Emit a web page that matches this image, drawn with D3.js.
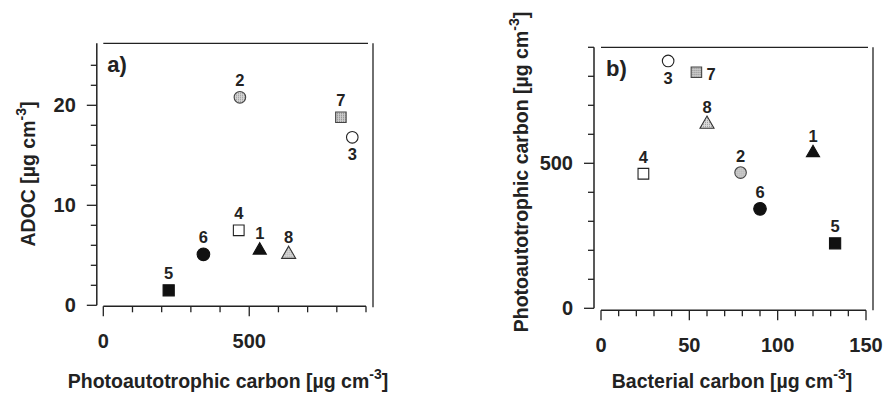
<!DOCTYPE html>
<html>
<head>
<meta charset="utf-8">
<script src="https://cdn.jsdelivr.net/npm/d3@7"></script>
<style>
  body { margin: 0; background: #fff; }
  svg { display: block; font-family: "Liberation Sans", Arial, sans-serif; }
</style>
</head>
<body>
<div id="chart"></div>
<script>
// station numbers
const stations = [1, 2, 3, 4, 5, 6, 7, 8];
// photoautotrophic carbon [ug cm-3]
const photoC = [536, 468, 853, 464, 224, 343, 814, 635];
// ADOC [ug cm-3]
const adoc = [5.5, 20.8, 16.8, 7.5, 1.5, 5.1, 18.8, 5.1];
// bacterial carbon [ug cm-3]
const bactC = [120, 79, 38, 24, 132.5, 90, 54, 60];

const ticksA_x = [0, 500];
const ticksA_y = [0, 10, 20];
const ticksB_x = [0, 50, 100, 150];
const ticksB_y = [0, 500];

const data = stations.map((s, i) => ({ id: s, photo: photoC[i], adoc: adoc[i], bact: bactC[i] }));

const W = 885, H = 394;
const svg = d3.select("#chart").append("svg")
  .attr("width", W).attr("height", H);

// texture patterns for the grey symbols
const defs = svg.append("defs");
function dotPattern(id, bg, fg) {
  const p = defs.append("pattern").attr("id", id)
    .attr("width", 2).attr("height", 2).attr("patternUnits", "userSpaceOnUse");
  p.append("rect").attr("width", 2).attr("height", 2).attr("fill", bg);
  p.append("rect").attr("width", 1).attr("height", 1).attr("fill", fg);
}
dotPattern("pCircle", "#d8d8d8", "#8a8a8a");
dotPattern("pSquare", "#cfcfcf", "#777");
dotPattern("pTri", "#dcdcdc", "#999");

// symbol style per station
const sym = {
  1: { type: d3.symbolTriangle, fill: "#111", stroke: "#111", size: 75 },
  2: { type: d3.symbolCircle, fill: "url(#pCircle)", stroke: "#444", size: 105 },
  3: { type: d3.symbolCircle, fill: "#fff", stroke: "#222", size: 105 },
  4: { type: d3.symbolSquare, fill: "#fff", stroke: "#222", size: 115 },
  5: { type: d3.symbolSquare, fill: "#111", stroke: "#111", size: 125 },
  6: { type: d3.symbolCircle, fill: "#111", stroke: "#111", size: 125 },
  7: { type: d3.symbolSquare, fill: "url(#pSquare)", stroke: "#444", size: 110 },
  8: { type: d3.symbolTriangle, fill: "url(#pTri)", stroke: "#333", size: 85 }
};

function drawPanel(cfg) {
  const g = svg.append("g");
  const x = d3.scaleLinear().domain(cfg.xDomain).range(cfg.xRange);
  const y = d3.scaleLinear().domain(cfg.yDomain).range(cfg.yRange);
  const x0 = cfg.xRange[0], x1 = cfg.xRange[1];
  const y0 = cfg.yRange[0], y1 = cfg.yRange[1];

  // frame (top and right)
  g.append("line").attr("x1", x0).attr("x2", x1 + 2).attr("y1", y1).attr("y2", y1)
    .attr("stroke", "#222").attr("stroke-width", 1.3);
  g.append("line").attr("x1", x1 + 7).attr("x2", x1 + 7).attr("y1", y1).attr("y2", y0 + 2)
    .attr("stroke", "#222").attr("stroke-width", 1.3);

  // x axis
  const xa = g.append("g").attr("transform", `translate(0,${y0 + cfg.xOff})`);
  xa.append("line").attr("x1", x0).attr("x2", x1).attr("stroke", "#222").attr("stroke-width", 1.5);
  xa.selectAll(".mt").data(d3.range(cfg.xDomain[0], cfg.xMinorMax + 1e-9, cfg.xMinor))
    .join("line").attr("x1", d => x(d)).attr("x2", d => x(d))
    .attr("y1", 0).attr("y2", d => cfg.xTicks.includes(d) ? 10 : 6)
    .attr("stroke", "#222").attr("stroke-width", 1.3);
  xa.selectAll("text").data(cfg.xTicks).join("text")
    .attr("x", d => x(d)).attr("y", 42)
    .attr("text-anchor", "middle").attr("font-size", 20).attr("font-weight", "bold")
    .attr("fill", "#222").text(d => d);

  // y axis
  const ya = g.append("g").attr("transform", `translate(${x0 - cfg.yOff},0)`);
  ya.append("line").attr("y1", y0).attr("y2", y1).attr("stroke", "#222").attr("stroke-width", 1.5);
  ya.selectAll(".mt").data(d3.range(cfg.yDomain[0], cfg.yMinorMax + 1e-9, cfg.yMinor))
    .join("line").attr("y1", d => y(d)).attr("y2", d => y(d))
    .attr("x1", 0).attr("x2", d => cfg.yTicks.includes(d) ? -10 : -6)
    .attr("stroke", "#222").attr("stroke-width", 1.3);
  ya.selectAll("text").data(cfg.yTicks).join("text")
    .attr("x", -21).attr("y", d => y(d) + 7)
    .attr("text-anchor", "end").attr("font-size", 20).attr("font-weight", "bold")
    .attr("fill", "#222").text(d => d);

  // axis titles
  const xt = g.append("text").attr("x", cfg.xTitleX).attr("y", 388)
    .attr("text-anchor", "middle").attr("font-size", 19.5).attr("font-weight", "bold").attr("fill", "#222");
  xt.append("tspan").text(cfg.xTitle + " [µg cm");
  xt.append("tspan").attr("font-size", 14).attr("dy", -9).text("-3");
  xt.append("tspan").attr("dy", 9).text("]");

  const yt = g.append("text")
    .attr("transform", `translate(${cfg.yTitleX},${cfg.yTitleY}) rotate(-90)`)
    .attr("text-anchor", "middle").attr("font-size", 19.5).attr("font-weight", "bold").attr("fill", "#222");
  yt.append("tspan").text(cfg.yTitle + " [µg cm");
  yt.append("tspan").attr("font-size", 14).attr("dy", -9).text("-3");
  yt.append("tspan").attr("dy", 9).text("]");

  // panel letter
  g.append("text").attr("x", x0 + cfg.letterDx).attr("y", y1 + 29)
    .attr("font-size", 22).attr("font-weight", "bold").attr("fill", "#222").text(cfg.letter);

  // points
  const pts = g.selectAll(".pt").data(data).join("g")
    .attr("transform", d => `translate(${x(d[cfg.xKey])},${y(d[cfg.yKey])})`);
  pts.append("path")
    .attr("d", d => d3.symbol().type(sym[d.id].type).size(sym[d.id].size)())
    .attr("fill", d => sym[d.id].fill)
    .attr("stroke", d => sym[d.id].stroke).attr("stroke-width", 1.1);
  pts.append("text")
    .attr("font-size", 16.5).attr("font-weight", "bold").attr("fill", "#222")
    .attr("text-anchor", d => cfg.labelAt(d.id) === "right" ? "start" : "middle")
    .attr("x", d => cfg.labelAt(d.id) === "right" ? 10 : 0)
    .attr("y", d => {
      const p = cfg.labelAt(d.id);
      return p === "below" ? 23 : p === "right" ? 8 : -11;
    })
    .text(d => d.id);
}

drawPanel({
  letter: "a)", letterDx: 4,
  xKey: "photo", yKey: "adoc",
  xDomain: [0, 900], xRange: [103.3, 366], xMinorMax: 900,
  yDomain: [0, 26.2], yRange: [305.3, 43.3], yMinorMax: 24,
  xTicks: ticksA_x, yTicks: ticksA_y, xMinor: 100, yMinor: 2,
  xOff: 1, yOff: 6.5,
  xTitle: "Photoautotrophic carbon", xTitleX: 228,
  yTitle: "ADOC", yTitleX: 35, yTitleY: 174,
  labelAt: id => id === 3 ? "below" : "above"
});

drawPanel({
  letter: "b)", letterDx: 5,
  xKey: "bact", yKey: "photo",
  xDomain: [0, 150], xRange: [601, 866], xMinorMax: 150,
  yDomain: [0, 900], yRange: [308.3, 47.3], yMinorMax: 900,
  xTicks: ticksB_x, yTicks: ticksB_y, xMinor: 10, yMinor: 100,
  xOff: 2, yOff: 7,
  xTitle: "Bacterial carbon", xTitleX: 732,
  yTitle: "Photoautotrophic carbon", yTitleX: 528, yTitleY: 172,
  labelAt: id => id === 3 ? "below" : id === 7 ? "right" : "above"
});
</script>
</body>
</html>
